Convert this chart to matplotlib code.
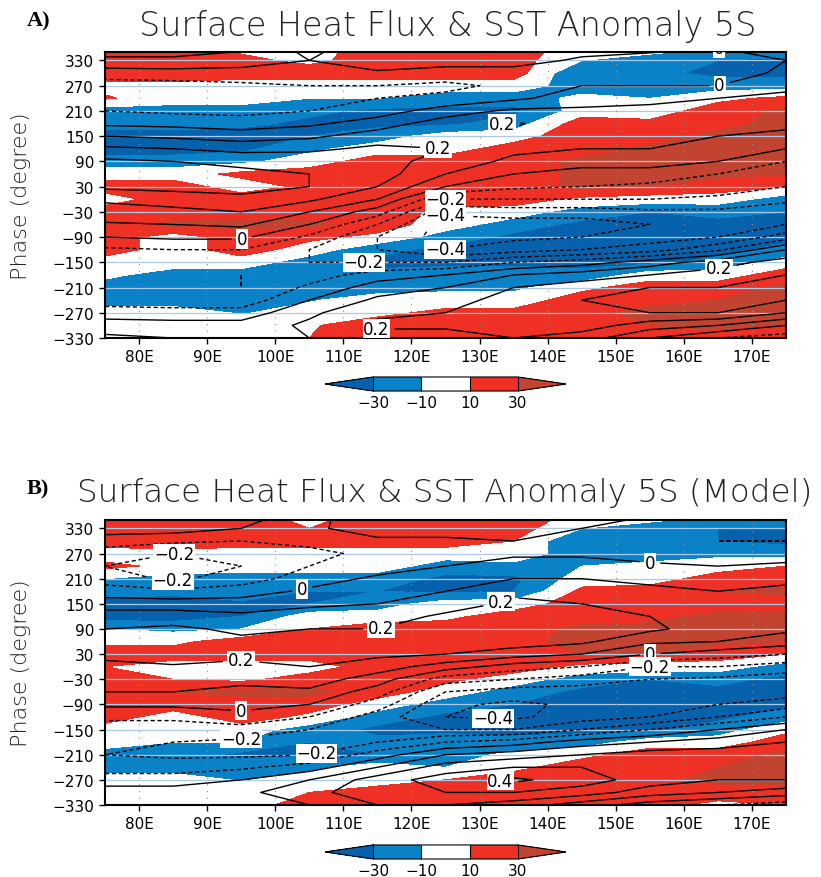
import numpy as np
import matplotlib
matplotlib.use('Agg')
import matplotlib.pyplot as plt
from matplotlib.colors import ListedColormap

# grid of the Hovmoller diagrams
lons = [75, 85, 95, 105, 115, 125, 135, 145, 155, 165, 175]
phases = [360, 330, 300, 270, 240, 210, 180, 150, 120, 90, 60, 30,
          0, -30, -60, -90, -120, -150, -180, -210, -240, -270, -300, -330]

# surface heat flux (W/m2), one row per longitude, phase from 360 down to -330
flux_obs = [
    [20, 20, 20, 5, 12, -20, -20, -40, -40, -20, 0, 20, 0, 20, 20, 20, 20, 0, -5, -20, -20, 0, 0, 10],
    [20, 20, 30, 0, 0, -20, -20, -40, -40, -20, 0, 20, 20, 20, 35, 0, 0, 0, -20, -20, -20, 0, 0, 10],
    [5, 15, 20, 0, 0, -20, -25, -40, -35, -15, 15, 0, 20, 20, 35, 20, 20, 0, -20, -25, -20, -12, 0, 0],
    [0, 5, 20, 0, -10, -25, -35, -30, -15, 0, 20, 15, 10, 20, 35, 15, 0, -20, -25, -20, -12, 0, 8, 10],
    [20, 20, 20, 0, -10, -35, -35, -20, 0, 20, 20, 20, 20, 20, 20, 5, -25, -35, -25, -20, 0, 5, 20, 20],
    [20, 20, 20, 0, -20, -35, -35, 0, 0, 20, 20, 20, 20, 5, 0, -20, -35, -35, -20, -15, 0, 15, 20, 20],
    [20, 20, 20, 0, -20, -35, -20, 0, 20, 20, 20, 20, 20, 0, -20, -35, -40, -35, -20, -15, 0, 15, 20, 20],
    [0, -10, -30, -20, -5, 0, 20, 25, 20, 35, 35, 35, 5, -20, -35, -35, -40, -35, -25, 5, 20, 25, 20, 20],
    [0, -20, -25, -20, -10, 0, 15, 20, 35, 35, 35, 30, 0, -30, -35, -40, -40, -35, 0, 20, 25, 35, 30, 20],
    [-10, -30, -35, -20, 5, 20, 25, 35, 35, 35, 35, 20, 0, -25, -35, -35, -35, -25, 0, 20, 30, 35, 35, 20],
    [-15, -35, -35, -20, 15, 35, 35, 35, 35, 35, 30, 10, -20, -30, -40, -35, -25, 0, 20, 35, 35, 35, 30, 10],
]

# SST anomaly (K), same layout
sst_obs = [
    [0.15, 0.08, -0.05, -0.15, -0.18, -0.1, -0.02, 0.1, 0.22, 0.32, 0.36, 0.32, 0.22, 0.15, 0.09, 0.0, -0.12, -0.15, -0.17, -0.17, -0.15, -0.05, 0.05, 0.12],
    [0.15, 0.08, -0.04, -0.14, -0.18, -0.12, -0.03, 0.08, 0.2, 0.3, 0.35, 0.33, 0.25, 0.17, 0.1, 0.02, -0.1, -0.15, -0.18, -0.18, -0.16, -0.06, 0.04, 0.1],
    [0.12, 0.05, -0.04, -0.12, -0.15, -0.13, -0.05, 0.05, 0.17, 0.27, 0.33, 0.33, 0.28, 0.2, 0.12, 0.02, -0.1, -0.17, -0.2, -0.2, -0.16, -0.06, 0.04, 0.08],
    [-0.05, 0.0, -0.03, -0.1, -0.12, -0.1, -0.02, 0.08, 0.18, 0.26, 0.3, 0.3, 0.22, 0.1, 0.0, -0.12, -0.2, -0.2, -0.15, -0.08, 0.0, 0.08, 0.12, 0.1],
    [0.1, 0.08, -0.02, -0.1, -0.1, -0.05, 0.05, 0.15, 0.22, 0.25, 0.25, 0.2, 0.1, -0.05, -0.2, -0.3, -0.3, -0.2, -0.05, 0.05, 0.12, 0.18, 0.22, 0.15],
    [0.12, 0.05, -0.05, -0.12, -0.08, 0.05, 0.15, 0.2, 0.2, 0.15, 0.1, 0.0, -0.2, -0.38, -0.45, -0.45, -0.4, -0.2, 0.0, 0.1, 0.15, 0.2, 0.22, 0.15],
    [0.1, 0.05, -0.05, -0.08, -0.02, 0.12, 0.21, 0.18, 0.12, 0.08, 0.0, -0.08, -0.2, -0.35, -0.45, -0.42, -0.35, -0.1, 0.1, 0.2, 0.25, 0.28, 0.25, 0.2],
    [0.05, -0.02, -0.05, 0.0, 0.05, 0.12, 0.15, 0.12, 0.1, 0.05, -0.05, -0.1, -0.2, -0.35, -0.45, -0.4, -0.3, -0.05, 0.15, 0.25, 0.3, 0.3, 0.25, 0.15],
    [0.02, -0.03, -0.05, 0.0, 0.08, 0.12, 0.15, 0.12, 0.1, 0.05, -0.05, -0.12, -0.2, -0.32, -0.4, -0.35, -0.25, 0.05, 0.2, 0.3, 0.35, 0.3, 0.15, 0.0],
    [0.0, -0.03, -0.05, 0.0, 0.1, 0.15, 0.15, 0.1, 0.05, 0.0, -0.1, -0.15, -0.22, -0.32, -0.38, -0.3, -0.12, 0.15, 0.25, 0.3, 0.35, 0.3, 0.1, -0.1],
    [0.02, 0.0, 0.02, 0.08, 0.12, 0.15, 0.12, 0.08, 0.0, -0.1, -0.15, -0.2, -0.28, -0.35, -0.3, -0.15, 0.1, 0.25, 0.3, 0.35, 0.3, 0.2, 0.0, -0.15],
]

flux_model = [
    [20, 20, 20, 0, 15, -10, -20, -40, -40, -10, 5, 20, 10, 15, 20, 20, 20, 0, 0, -20, -20, 0, 0, 5],
    [20, 25, 30, 0, 5, -20, -25, -40, -40, -15, 5, 20, 0, 10, 30, 20, 0, 0, -10, -20, -20, 0, 0, 5],
    [20, 20, 20, 0, 0, -20, -15, -35, -30, -10, 20, 20, 0, 5, 35, 20, 20, 0, -10, -35, -15, -12, 0, 0],
    [0, 10, 20, 0, 0, -20, -30, -30, 0, 10, 20, 20, 0, 20, 35, 20, 5, -20, -30, -35, -15, 0, 10, 20],
    [20, 20, 20, 0, 0, -20, -30, -20, 0, 20, 20, 20, 20, 20, 20, 0, -20, -35, -25, -30, 0, 0, 20, 25],
    [20, 20, 20, 0, -20, -35, -35, 0, 5, 20, 20, 20, 20, 15, 0, -20, -35, -35, -20, -20, -10, 10, 20, 20],
    [20, 20, 10, 0, -15, -35, -30, 0, 20, 20, 25, 20, 20, 0, -20, -30, -40, -35, -25, -5, 5, 20, 20, 20],
    [5, -10, -30, -20, -10, 0, 15, 20, 20, 35, 35, 30, 5, -20, -35, -35, -40, -35, -20, 5, 20, 25, 20, 15],
    [0, -20, -25, -20, -5, 0, 20, 20, 25, 35, 35, 30, 0, -30, -35, -40, -40, -35, 0, 20, 25, 25, 20, 15],
    [-10, -30, -30, -15, 0, 20, 30, 20, 35, 35, 35, 20, 0, -25, -35, -35, -35, -20, 0, 20, 30, 35, 20, 5],
    [-15, -30, -35, -20, 10, 20, 35, 20, 35, 35, 30, 10, -20, -35, -40, -35, -20, 5, 20, 35, 35, 35, 25, 10],
]

sst_model = [
    [0.1, 0.05, -0.05, -0.15, -0.2, -0.15, -0.05, 0.05, 0.15, 0.2, 0.25, 0.25, 0.15, 0.12, 0.1, 0.02, -0.08, -0.15, -0.18, -0.2, -0.15, -0.05, 0.05, 0.1],
    [0.1, 0.05, -0.08, -0.2, -0.25, -0.22, -0.08, 0.05, 0.15, 0.22, 0.28, 0.3, 0.18, 0.12, 0.1, 0.02, -0.08, -0.15, -0.2, -0.22, -0.15, -0.05, 0.05, 0.1],
    [0.05, 0.0, -0.1, -0.18, -0.2, -0.15, -0.05, 0.05, 0.12, 0.18, 0.22, 0.22, 0.18, 0.12, 0.08, 0.02, -0.02, -0.15, -0.22, -0.22, -0.12, 0.0, 0.08, 0.05],
    [-0.05, -0.02, -0.08, -0.12, -0.1, -0.05, 0.02, 0.08, 0.15, 0.2, 0.25, 0.25, 0.2, 0.15, 0.08, 0.0, -0.1, -0.2, -0.25, -0.2, -0.05, 0.1, 0.15, 0.1],
    [0.1, 0.05, -0.02, -0.08, -0.05, 0.02, 0.05, 0.1, 0.15, 0.2, 0.25, 0.22, 0.15, 0.05, -0.05, -0.15, -0.25, -0.28, -0.2, -0.05, 0.1, 0.25, 0.3, 0.2],
    [0.1, 0.05, -0.02, -0.05, 0.0, 0.05, 0.1, 0.15, 0.22, 0.25, 0.25, 0.2, 0.05, -0.15, -0.3, -0.38, -0.4, -0.3, -0.1, 0.1, 0.25, 0.35, 0.3, 0.2],
    [0.1, 0.05, 0.0, -0.02, 0.05, 0.1, 0.18, 0.22, 0.25, 0.28, 0.25, 0.15, -0.05, -0.2, -0.35, -0.42, -0.42, -0.3, -0.05, 0.15, 0.3, 0.42, 0.3, 0.15],
    [0.05, 0.0, -0.05, -0.02, 0.05, 0.1, 0.15, 0.2, 0.25, 0.3, 0.22, 0.1, -0.1, -0.25, -0.35, -0.38, -0.35, -0.2, 0.05, 0.2, 0.3, 0.35, 0.25, 0.05],
    [0.0, -0.05, -0.08, -0.05, 0.02, 0.08, 0.12, 0.15, 0.2, 0.22, 0.12, 0.0, -0.2, -0.3, -0.35, -0.35, -0.3, -0.1, 0.1, 0.25, 0.3, 0.25, 0.15, -0.05],
    [0.0, -0.05, -0.1, -0.08, 0.0, 0.05, 0.1, 0.12, 0.15, 0.15, 0.1, -0.05, -0.2, -0.32, -0.35, -0.3, -0.2, 0.0, 0.15, 0.25, 0.25, 0.2, 0.1, -0.1],
    [0.0, -0.05, -0.1, -0.05, 0.02, 0.08, 0.12, 0.12, 0.15, 0.12, 0.05, -0.1, -0.25, -0.35, -0.35, -0.25, -0.1, 0.1, 0.2, 0.25, 0.25, 0.2, 0.05, -0.15],
]

# where the contour labels sit (lon, phase)
labels_obs = [(165, 345), (165, 287), (133, 190), (124, 150), (125, 6), (125, -36),
              (95, -88), (113, -153), (125, -118), (165, -153), (115, -300)]
labels_model = [(85, 255), (85, 216), (104, 182), (116, 65), (95, 16), (95, -122),
                (95, -170), (106, -201), (155, 241), (133, 164), (155, 50), (155, 8),
                (132, -114), (133, -280)]

flux_levels = [-30, -10, 10, 30]
sst_plain = [-0.5, -0.3, -0.1, 0.1, 0.3, 0.5]
sst_labelled = [-0.4, -0.2, 0.0, 0.2, 0.4]
cmap = ListedColormap(['#0A82C8', '#FFFFFF', '#EE3124'])
cmap.set_under('#0662AD')
cmap.set_over('#C2432F')

plt.rcParams['font.family'] = ['DejaVu Sans']
plt.rcParams['lines.dashed_pattern'] = [3.0, 2.0]

fig = plt.figure(figsize=(8.21, 8.78), dpi=100)


def fmt(v):
    s = '%g' % round(v, 1)
    return s.replace('-', '\u2212')


def draw_panel(ax, flux, sst, label_pos):
    x, y = np.meshgrid(lons, phases)
    f = np.array(flux, dtype=float).T
    s = np.array(sst, dtype=float).T
    cf = ax.contourf(x, y, f, levels=flux_levels, cmap=cmap, extend='both', zorder=1)
    for p in range(-330, 331, 60):
        ax.axhline(p, color='#A9CBE8', lw=0.9, zorder=2)
    for lo in range(80, 171, 10):
        ax.axvline(lo, color='#8c8c8c', lw=0.8, ls=(0, (1, 5)), zorder=2)
    ax.contour(x, y, s, levels=sst_plain, colors='k', linewidths=1.0, zorder=3)
    cs = ax.contour(x, y, s, levels=sst_labelled, colors='k', linewidths=1.0, zorder=3)
    texts = ax.clabel(cs, fmt=fmt, manual=label_pos, inline=True, fontsize=12)
    for t in texts:
        t.set_rotation(0)
        t.set_bbox(dict(facecolor='white', edgecolor='none', pad=0.5))
        t.set_zorder(4)
        t.set_clip_on(True)
    ax.set_xlim(75, 175)
    ax.set_ylim(-330, 350)
    ax.set_xticks(range(80, 171, 10))
    ax.set_xticklabels(['%dE' % v for v in range(80, 171, 10)])
    ax.set_yticks(range(-330, 331, 60))
    ax.set_yticklabels([str(v).replace('-', '\u2212') for v in range(-330, 331, 60)])
    ax.tick_params(labelsize=11, length=4, width=1, direction='out', pad=4)
    for sp in ax.spines.values():
        sp.set_linewidth(1.5)
    return cf


ax_a = fig.add_axes([0.1279, 0.6139, 0.8295, 0.3257])
cf_a = draw_panel(ax_a, flux_obs, sst_obs, labels_obs)
ax_b = fig.add_axes([0.1279, 0.0820, 0.8295, 0.3246])
cf_b = draw_panel(ax_b, flux_model, sst_model, labels_model)

for cf, bottom in [(cf_a, 0.5535), (cf_b, 0.0205)]:
    cax = fig.add_axes([0.3959, bottom, 0.2935, 0.016])
    cb = fig.colorbar(cf, cax=cax, orientation='horizontal', extendfrac=0.333,
                      drawedges=True)
    cb.set_ticks(flux_levels)
    cb.set_ticklabels([str(v).replace('-', '\u2212') for v in flux_levels])
    cb.ax.tick_params(length=0, labelsize=11, pad=3)
    cb.outline.set_linewidth(0.8)
    cb.dividers.set_linewidth(0.8)

title_font = dict(family=['DejaVu Sans'], weight='ultralight', color='#222222')
fig.text(0.545, 0.970, 'Surface Heat Flux & SST Anomaly 5S', size=24,
         ha='center', va='center', **title_font)
fig.text(0.542, 0.439, 'Surface Heat Flux & SST Anomaly 5S (Model)', size=23.4,
         ha='center', va='center', **title_font)
fig.text(0.033, 0.975, 'A)', family='Liberation Serif', weight='bold', size=16, ha='left', va='center')
fig.text(0.033, 0.443, 'B)', family='Liberation Serif', weight='bold', size=16, ha='left', va='center')

label_font = dict(family=['DejaVu Sans'], weight='ultralight', size=16, rotation=90,
                  ha='center', va='center', color='#222222')
fig.text(0.026, 0.777, 'Phase (degree)', **label_font)
fig.text(0.026, 0.245, 'Phase (degree)', **label_font)

fig.savefig('out.png', dpi=100)
